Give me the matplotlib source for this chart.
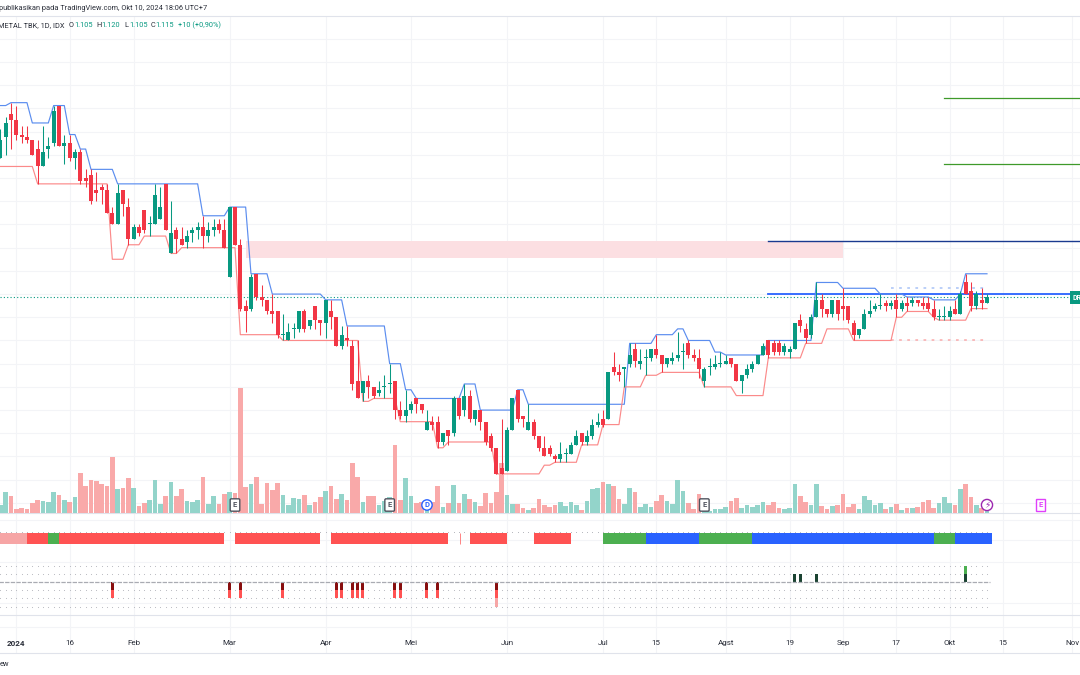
import matplotlib
matplotlib.use("Agg")
import matplotlib.pyplot as plt
import numpy as np

W, H = 1080, 675

opens = [1355,1390,1430,1420,1395,1390,1385,1370,1340,1370,
         1380,1445,1375,1380,1355,1365,1320,1325,1300,1305,
         1300,1260,1240,1300,1270,1215,1235,1265,1240,1240,
         1250,1310,1190,1230,1215,1210,1225,1230,1235,1220,
         1230,1240,1230,1150,1270,1205,1100,1095,1155,1115,
         1110,1090,1090,1050,1040,1060,1060,1090,1065,1100,
         1075,1070,1090,1080,1030,1045,1030,970,950,970,
         960,950,960,965,970,920,910,920,940,930,
         885,900,900,865,885,880,940,920,945,905,
         920,900,875,855,820,815,885,955,910,885,
         900,875,855,855,840,835,845,845,860,880,
         865,875,895,905,905,995,985,990,1000,1025,
         1000,1010,1010,1025,1015,1000,1005,1010,1020,1035,
         1015,1010,970,995,995,1000,1000,1010,1000,970,
         980,990,1000,1015,1040,1035,1035,1020,1020,1025,
         1075,1060,1050,1080,1110,1095,1085,1110,1100,1100,
         1070,1050,1060,1085,1095,1100,1105,1100,1110,1095,
         1105,1105,1110,1105,1105,1095,1080,1080,1080,1095,
         1085,1140,1125,1100,1110,1105]
highs = [1405,1425,1450,1445,1410,1410,1385,1385,1410,1390,
         1445,1445,1395,1395,1370,1370,1335,1335,1330,1310,
         1310,1270,1310,1300,1285,1240,1240,1265,1255,1310,
         1305,1310,1280,1235,1235,1230,1235,1245,1255,1245,
         1250,1250,1250,1270,1270,1215,1110,1155,1155,1135,
         1110,1120,1090,1085,1070,1070,1090,1095,1075,1100,
         1075,1110,1110,1080,1065,1065,1040,1040,970,980,
         960,970,980,1000,970,935,955,935,940,930,
         920,910,910,880,885,945,940,965,955,920,
         920,900,880,855,905,890,940,955,910,930,
         905,875,875,860,845,865,855,865,885,880,
         885,905,915,920,985,1020,1000,995,1035,1035,
         1025,1025,1025,1050,1015,1010,1020,1055,1035,1040,
         1025,1025,995,1010,1015,1020,1015,1010,1000,980,
         1000,1005,1015,1035,1040,1040,1040,1035,1030,1070,
         1085,1070,1085,1140,1120,1095,1110,1110,1130,1100,
         1075,1060,1095,1110,1105,1120,1110,1110,1120,1110,
         1115,1115,1110,1115,1115,1110,1095,1100,1100,1110,
         1125,1155,1140,1125,1130,1120]
lows = [1355,1360,1370,1385,1380,1380,1360,1310,1340,1355,
        1375,1375,1345,1350,1335,1310,1305,1275,1280,1275,
        1260,1240,1240,1255,1205,1215,1220,1225,1220,1240,
        1250,1230,1190,1190,1205,1200,1210,1215,1200,1210,
        1220,1225,1200,1150,1205,1090,1055,1090,1110,1100,
        1085,1070,1045,1040,1040,1045,1055,1055,1060,1060,
        1050,1045,1060,1030,1025,1030,955,940,935,940,
        940,945,940,950,905,905,900,915,915,915,
        885,885,855,860,860,875,905,910,900,895,
        885,860,850,810,810,815,885,900,890,885,
        870,850,840,840,830,830,830,845,860,860,
        860,870,890,890,905,980,970,960,995,995,
        990,980,1005,1010,985,995,1000,1005,990,1010,
        1005,975,960,980,990,995,1000,995,970,950,
        975,985,1000,1015,1010,1015,1015,1015,1010,1025,
        1055,1035,1045,1080,1080,1080,1080,1075,1075,1070,
        1040,1045,1060,1080,1090,1095,1090,1095,1080,1090,
        1090,1100,1100,1095,1090,1075,1075,1075,1075,1085,
        1085,1120,1090,1095,1095,1105]
closes = [1385,1415,1420,1395,1390,1385,1360,1340,1365,1375,
          1435,1375,1380,1355,1365,1315,1315,1280,1295,1300,
          1260,1240,1295,1275,1215,1235,1225,1230,1240,1290,
          1270,1230,1225,1215,1205,1220,1230,1235,1220,1230,
          1235,1230,1200,1270,1205,1095,1090,1150,1115,1110,
          1090,1085,1050,1050,1055,1060,1090,1060,1075,1075,
          1070,1110,1080,1030,1050,1040,965,940,970,960,
          945,955,960,965,920,910,920,930,930,920,
          900,895,865,880,875,940,910,945,905,920,
          900,865,855,810,810,885,940,905,905,900,
          875,855,840,845,835,845,845,860,875,865,
          875,895,900,895,985,985,980,995,1015,1005,
          1005,1010,1025,1015,1000,1010,1010,1015,1020,1015,
          1010,990,990,995,1000,1000,1005,1000,970,980,
          990,1000,1015,1030,1015,1020,1020,1030,1025,1070,
          1065,1045,1080,1110,1095,1085,1110,1085,1095,1075,
          1050,1060,1085,1090,1100,1100,1100,1105,1095,1105,
          1100,1110,1105,1100,1095,1080,1080,1080,1090,1085,
          1120,1120,1100,1120,1105,1115]
volumes = [24,63,52,13,15,13,30,39,36,32,
           63,54,39,32,48,120,80,99,95,86,
           81,168,71,76,104,75,22,30,38,99,
           28,52,93,52,72,36,32,39,109,28,
           52,28,57,62,59,375,79,87,107,27,
           89,69,91,54,23,45,42,54,24,34,
           48,66,80,42,57,39,149,109,34,51,
           51,25,36,48,204,38,104,52,30,34,
           33,34,82,19,29,84,29,57,42,32,
           22,60,30,63,150,54,27,27,16,9,
           16,43,23,18,24,33,21,32,25,9,
           37,72,76,93,87,80,41,27,75,62,
           19,27,18,35,53,35,28,98,67,30,
           13,56,39,7,11,13,17,37,45,15,
           24,19,24,33,24,32,15,12,15,86,
           51,32,24,86,22,13,21,24,57,19,
           27,13,51,39,24,30,12,17,27,8,
           15,15,18,33,39,15,29,48,29,24,
           71,86,48,24,15,5]

# trailing bands
upper = ([1445]*2 + [1450]*4 + [1415]*4 + [1445]*3 + [1395]*2 + [1370]*2 + [1335]*5
         + [1310]*16 + [1255]*5 + [1270]*4 + [1155]*4 + [1120]*10 + [1110]*4 + [1065]*8
         + [1000]*3 + [955]*2 + [940]*9 + [965]*3 + [920]*7 + [955]*2 + [930]*19
         + [1035]*5 + [1050]*4 + [1060]*2 + [1040]*5 + [1020]*2 + [1015]*8 + [1040]*9
         + [1140]*5 + [1130]*7 + [1120]*5 + [1115]*5 + [1110]*5 + [1120] + [1155]*5)
lower = ([1340]*7 + [1310]*14 + [1180]*3 + [1205]*3 + [1220]*5 + [1190]*2 + [1200]*11
         + [1050]*8 + [1040]*15 + [935]*2 + [940]*5 + [900]*7 + [855]*2 + [865]*9
         + [810]*9 + [825]*2 + [830]*5 + [860]*4 + [895]*4 + [960]*4 + [980]*3 + [985]*8
         + [960]*6 + [945]*6 + [1010]*7 + [1035]*4 + [1060]*5 + [1040]*8 + [1080]*2
         + [1090]*5 + [1080] + [1075]*6 + [1095]*4)

# coloured strip pane, one state per bar
strip = (["pink"]*5 + ["red"]*4 + ["green"]*2 + ["red"]*31 + [None]*2 + ["red"]*16 + [None]*2
         + ["red"]*22 + [None]*4 + ["red"]*7 + [None]*5 + ["red"]*7 + [None]*6 + ["green"]*8
         + ["blue"]*10 + ["green"]*10 + ["blue"]*34 + ["green"]*4 + ["blue"]*7)
strip_colors = {"pink": "#f6a5a5", "red": "#ff5252", "green": "#4caf50", "blue": "#2962ff"}

# signal pane
sell_bars = [21, 43, 45, 53, 63, 64, 66, 67, 68, 74, 75, 80, 82, 93]
sell_levels = [2, 2, 2, 2, 2, 2, 2, 2, 2, 2, 2, 2, 2, 3]
buy_bars = [149, 150, 153, 181]
buy_levels = [1, 1, 1, 2]

tick_bars = [3, 13, 25, 43, 61, 77, 95, 113, 123, 136, 148, 158, 168, 178, 188, 201]
tick_labels = ["2024", "16", "Feb", "Mar", "Apr", "Mei", "Jun", "Jul", "15", "Agst",
               "19", "Sep", "17", "Okt", "15", "Nov"]

events = [(44, "E"), (73, "E"), (80, "D"), (132, "E"), (185, "\u26a1"), (195, "E")]

zone_low, zone_high = 1182, 1211
zone_start, zone_end = 46, 158
levels_blue = [(1120, "#2962ff", 1.3), (1211, "#1a3a8f", 1.0)]
levels_green = [1458, 1344]
last_price = 1115
range_top, range_bottom = 1130, 1040

plt.rcParams["font.family"] = ["Roboto", "DejaVu Sans"]
GREEN = "#089981"
RED = "#f23645"
GRID = "#f3f4f7"
LINE = "#e0e3eb"
TEXT = "#2a2e39"


def pane(top, bottom, z):
    a = fig.add_axes([0, 1 - bottom / H, 1, (bottom - top) / H], zorder=z)
    a.set_xlim(-0.06, 202.44)
    a.patch.set_alpha(0)
    a.set_yticks([])
    a.set_xticks([])
    for s in a.spines.values():
        s.set_visible(False)
    return a


def px_text(x, y, s, **kw):
    fig.text(x / W, 1 - y / H, s, va="center", **kw)


fig = plt.figure(figsize=(W / 100, H / 100), dpi=100, facecolor="white")
x = np.arange(len(closes))
o, h, l, c = map(np.array, (opens, highs, lows, closes))
up = c >= o

# background grid
bg = pane(16, 653, 0)
bg.set_ylim(653, 16)
bg.set_xticks(tick_bars, tick_labels)
bg.tick_params(axis="x", length=0, pad=-9.5, labelsize=5.8, labelcolor=TEXT)
bg.grid(axis="x", color=GRID, lw=0.8)
bg.set_axisbelow(True)
for lab in bg.get_xticklabels()[:1]:
    lab.set_fontweight("bold")
for yy in [520, 540, 562, 603, 627]:
    bg.axhline(yy, color=GRID, lw=0.8)
for yy in [513, 615]:
    bg.axhline(yy, color=LINE, lw=0.8)
for side in ["top", "bottom"]:
    bg.spines[side].set_visible(True)
    bg.spines[side].set_color(LINE)
    bg.spines[side].set_linewidth(0.8)

# price pane
ax = pane(16, 520, 2)
ax.set_ylim(730.5, 1599.4)
for p in range(760, 1600, 40):
    ax.axhline(p, color=GRID, lw=0.8, zorder=0)
ax.fill_between([zone_start, zone_end], zone_low, zone_high, color="#fcdfe2", lw=0, zorder=1)
ax.axhline(last_price, color=GREEN, lw=0.8, ls=(0, (1, 2)), zorder=1)
for p, col, lw in levels_blue:
    ax.plot([144, 202.44], [p, p], color=col, lw=lw, zorder=2)
for p in levels_green:
    ax.plot([177, 202.44], [p, p], color="#3f9a2a", lw=0.9, zorder=2)
ax.plot(x, upper, color="#5b8def", lw=0.85, zorder=3)
ax.plot(x, lower, color="#fb8a8a", lw=0.85, zorder=3)
ax.plot([167, 185], [range_top, range_top], color="#5b8def", alpha=0.45, lw=1.3, ls=(0, (1.5, 3)), zorder=2)
ax.plot([167, 185], [range_bottom, range_bottom], color="#fb8a8a", alpha=0.6, lw=1.3, ls=(0, (1.5, 3)), zorder=2)

# volume sits on its own scale inside the price pane
vol = ax.twinx()
vol.set_ylim(-21, 1491)
vol.set_yticks([])
vol.patch.set_alpha(0)
for s in vol.spines.values():
    s.set_visible(False)
vol.bar(x, volumes, width=0.88, color=np.where(up, "#93d4ca", "#f9a9a9"), lw=0, zorder=2)

# candles above the volume
top_ax = ax.twinx()
top_ax.set_ylim(ax.get_ylim())
top_ax.set_yticks([])
top_ax.patch.set_alpha(0)
for s in top_ax.spines.values():
    s.set_visible(False)
cols = np.where(up, GREEN, RED)
top_ax.vlines(x, l, h, colors=cols, lw=0.75, zorder=4)
body = np.maximum(np.abs(c - o), 1.8)
top_ax.bar(x, body, bottom=np.minimum(o, c), width=0.78, color=cols, lw=0, zorder=5)

# earnings / dividend markers
for i, label in events:
    fs = 5.5
    if label == "D":
        st = dict(boxstyle="circle,pad=0.22", fc="white", ec="#2962ff", lw=1.0)
        col = "#2962ff"
    elif label == "\u26a1":
        st = dict(boxstyle="circle,pad=0.12", fc="white", ec="#9c27b0", lw=1.0)
        col = "#9c27b0"
        fs = 6.5
    elif i == 195:
        st = dict(boxstyle="square,pad=0.35", fc="white", ec="#e040fb", lw=1.0)
        col = "#e040fb"
    else:
        st = dict(boxstyle="round,pad=0.35,rounding_size=0.15", fc="white", ec="#50535e", lw=1.0)
        col = "#50535e"
    top_ax.text(i, 1599.4 - (505 - 16) * 1.724, label, color=col, fontsize=fs, fontweight="bold",
                ha="center", va="center", bbox=st, zorder=6)

# strip pane
ax2 = pane(520, 555, 3)
ax2.set_ylim(0, 35)
for state, col in strip_colors.items():
    idx = [i for i, s in enumerate(strip) if s == state]
    ax2.bar(idx, 10.5, bottom=11.5, width=1.02, align="edge", color=col, lw=0)
ax2.vlines(86.1, 11.5, 22, color="#ff5252", lw=0.5)
ax2.scatter(x, np.full(len(x), 23), s=0.5, color="#b4b6bd", lw=0)

# signal pane
ax3 = pane(555, 615, 3)
ax3.set_ylim(-4.02, 3.29)
for lev in [2, 1, -1, -2, -3]:
    ax3.scatter(x, np.full(len(x), lev), s=0.6, color="#b4b6bd", lw=0)
ax3.plot([-1, 185.5], [0, 0], color="#a9abb2", lw=0.9, ls=(0, (3.5, 1)))
w = 0.56
sell_cols = ["#880e0e", "#ff5252", "#f7a6a6"]
buy_cols = ["#1b4332", "#4caf50"]
for i, n in zip(sell_bars, sell_levels):
    for k in range(n):
        ax3.bar(i, -1, bottom=-k, width=w, color=sell_cols[k], lw=0)
for i, n in zip(buy_bars, buy_levels):
    for k in range(n):
        ax3.bar(i, 1, bottom=k, width=w, color=buy_cols[k], lw=0)

# header texts
px_text(-1, 9, "publikasikan pada TradingView.com, Okt 10, 2024 18:06 UTC+7", fontsize=5.3, color=TEXT)
px_text(-2, 25.5, "METAL TBK, 1D, IDX", fontsize=5.3, color=TEXT)
for xp, s, col in [(69, "O", TEXT), (74, "1.105", GREEN), (96.7, "H", TEXT), (101.7, "1.120", GREEN),
                   (124, "L", TEXT), (129.3, "1.105", GREEN), (150.7, "C", TEXT), (155.7, "1.115", GREEN),
                   (177.7, "+10 (+0,90%)", GREEN)]:
    px_text(xp, 25.5, s, fontsize=5.3, color=col)
px_text(0, 664, "ew", fontsize=5.3, color=TEXT)
px_text(1072.5, 297.5, "DR", fontsize=5, color="white", fontweight="bold",
        bbox=dict(boxstyle="square,pad=0.4", fc=GREEN, ec=GREEN, lw=0))

fig.savefig("out.png", dpi=100)
